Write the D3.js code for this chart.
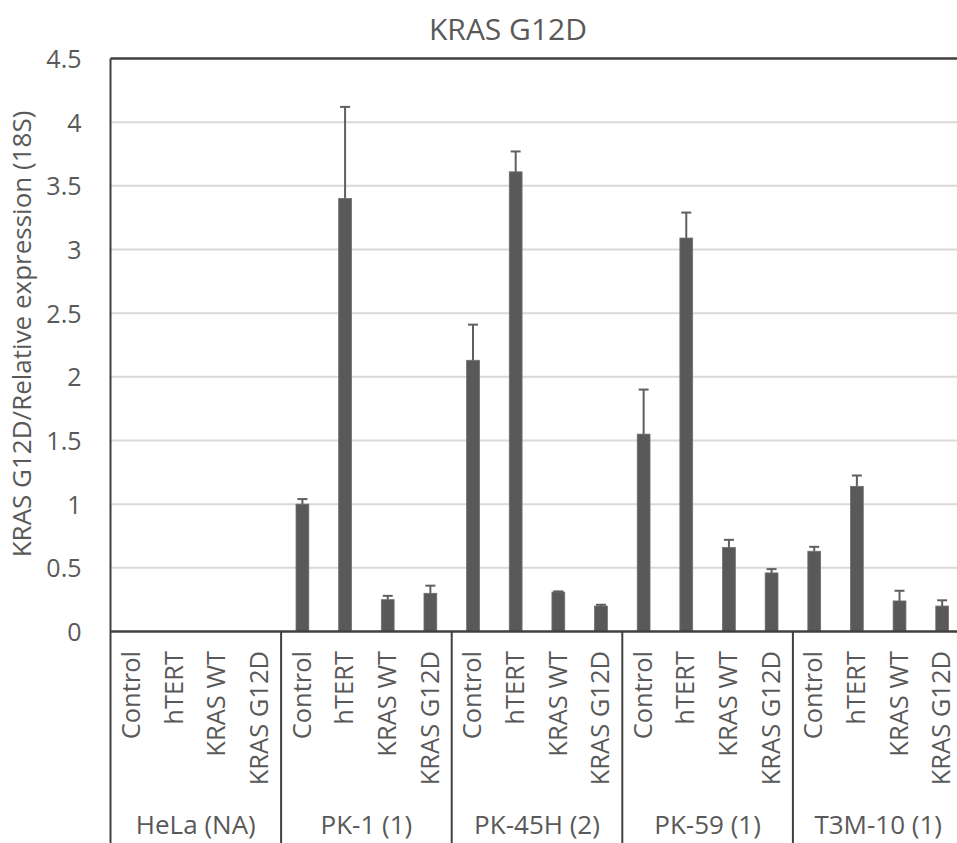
<!DOCTYPE html>
<html>
<head>
<meta charset="utf-8">
<script src="https://cdn.jsdelivr.net/npm/d3@7"></script>
<style>
	body { margin: 0; background: #fff; }
	text { font-family: "Open Sans", "Noto Sans", sans-serif; fill: #595959; }
</style>
</head>
<body>
<svg id="chart" width="957" height="843"></svg>
<script>

// cell lines (outer axis level) and conditions (inner level)
var groups = ["HeLa (NA)", "PK-1 (1)", "PK-45H (2)", "PK-59 (1)", "T3M-10 (1)"];
var conditions = ["Control", "hTERT", "KRAS WT", "KRAS G12D"];

// mean relative expression, one row per cell line (null = no bar)
var means = [
	[null, null, null, null],
	[1.00, 3.40, 0.25, 0.30],
	[2.13, 3.61, 0.31, 0.20],
	[1.55, 3.09, 0.66, 0.46],
	[0.63, 1.14, 0.24, 0.20]
];

// upper error bar length
var errors = [
	[null, null, null, null],
	[0.04, 0.72, 0.03, 0.06],
	[0.28, 0.16, 0.005, 0.01],
	[0.35, 0.20, 0.06, 0.03],
	[0.035, 0.085, 0.08, 0.045]
];

var yTicks = [0, 0.5, 1, 1.5, 2, 2.5, 3, 3.5, 4, 4.5];


var svg = d3.select("#chart");

var plotLeft = 110.5,
	plotTop = 58.5,
	plotBottom = 631.5,
	groupWidth = 170.6;

var y = d3.scaleLinear()
			.domain([0, 4.5])
			.range([plotBottom, plotTop]);

var xGroup = d3.scaleBand()
			.domain(groups)
			.range([plotLeft, plotLeft + groups.length * groupWidth]);

var xCond = d3.scaleBand()
			.domain(conditions)
			.range([0, xGroup.bandwidth()])
			.paddingInner(0.7)
			.paddingOuter(0.35);


// flatten data into one record per bar
var bars = [];
groups.forEach(function(g, i) {
	conditions.forEach(function(c, j) {
		bars.push({ group: g, cond: c, value: means[i][j], err: errors[i][j] });
	});
});


// gridlines
svg.append("g")
	.selectAll("line")
	.data(yTicks.filter(function(d) { return d > 0 && d < 4.5; }))
	.enter().append("line")
	.attr("x1", plotLeft)
	.attr("x2", 957)
	.attr("y1", function(d) { return y(d); })
	.attr("y2", function(d) { return y(d); })
	.style("stroke", "#d9d9d9")
	.style("stroke-width", 2);


// y axis tick labels
var yAxis = svg.append("g")
	.attr("transform", "translate(" + plotLeft + ",0)")
	.call(d3.axisLeft(y)
			.tickValues(yTicks)
			.tickSize(0)
			.tickPadding(29)
			.tickFormat(function(d) { return String(d); }));

yAxis.select(".domain").remove();
yAxis.selectAll("text")
	.style("font-size", "25px")
	.style("font-family", "'Open Sans', 'Noto Sans', sans-serif")
	.style("fill", "#595959")
	.attr("dy", "0.36em");


// bars
var shown = bars.filter(function(d) { return d.value !== null; });

svg.append("g")
	.selectAll("rect")
	.data(shown)
	.enter().append("rect")
	.attr("x", function(d) { return xGroup(d.group) + xCond(d.cond); })
	.attr("width", xCond.bandwidth())
	.attr("y", function(d) { return y(d.value); })
	.attr("height", function(d) { return y(0) - y(d.value); })
	.style("fill", "#595959")
	.style("stroke", "#6e6e6e")
	.style("stroke-width", 0.8);


// error bars (upper only)
var errG = svg.append("g")
	.style("stroke", "#5f5f5f")
	.style("stroke-width", 2);

function barCenter(d) {
	return xGroup(d.group) + xCond(d.cond) + xCond.bandwidth() / 2;
}

errG.selectAll(".stem")
	.data(shown)
	.enter().append("line")
	.attr("class", "stem")
	.attr("x1", barCenter)
	.attr("x2", barCenter)
	.attr("y1", function(d) { return y(d.value); })
	.attr("y2", function(d) { return y(d.value + d.err); });

errG.selectAll(".cap")
	.data(shown)
	.enter().append("line")
	.attr("class", "cap")
	.attr("x1", function(d) { return barCenter(d) - 5; })
	.attr("x2", function(d) { return barCenter(d) + 5; })
	.attr("y1", function(d) { return y(d.value + d.err); })
	.attr("y2", function(d) { return y(d.value + d.err); });


// frame: top border, left axis, baseline, group separators
var axisColour = "#404040";

svg.append("line")
	.attr("x1", plotLeft).attr("x2", 957)
	.attr("y1", plotTop).attr("y2", plotTop)
	.style("stroke", axisColour)
	.style("stroke-width", 2.5);

svg.append("line")
	.attr("x1", plotLeft).attr("x2", 957)
	.attr("y1", y(0)).attr("y2", y(0))
	.style("stroke", axisColour)
	.style("stroke-width", 2.5);

svg.append("line")
	.attr("x1", plotLeft).attr("x2", plotLeft)
	.attr("y1", plotTop).attr("y2", 843)
	.style("stroke", axisColour)
	.style("stroke-width", 2);

svg.append("g")
	.selectAll("line")
	.data(groups.slice(1))
	.enter().append("line")
	.attr("x1", function(d) { return xGroup(d); })
	.attr("x2", function(d) { return xGroup(d); })
	.attr("y1", y(0))
	.attr("y2", 843)
	.style("stroke", axisColour)
	.style("stroke-width", 2);


// condition labels (rotated)
svg.append("g")
	.selectAll("text")
	.data(bars)
	.enter().append("text")
	.attr("transform", function(d) {
		return "translate(" + (barCenter(d) - 1) + ",651) rotate(-90)";
	})
	.attr("text-anchor", "end")
	.attr("dy", "0.36em")
	.style("font-size", "25.5px")
	.text(function(d) { return d.cond; });


// cell line labels
svg.append("g")
	.selectAll("text")
	.data(groups)
	.enter().append("text")
	.attr("x", function(d) { return xGroup(d) + xGroup.bandwidth() / 2; })
	.attr("y", 834)
	.attr("text-anchor", "middle")
	.style("font-size", "26px")
	.text(function(d) { return d; });


// title and y label
svg.append("text")
	.attr("x", 508)
	.attr("y", 40)
	.attr("text-anchor", "middle")
	.style("font-size", "30px")
	.text("KRAS G12D");

svg.append("text")
	.attr("transform", "translate(31,334) rotate(-90)")
	.attr("text-anchor", "middle")
	.style("font-size", "26px")
	.text("KRAS G12D/Relative expression (18S)");

</script>
</body>
</html>
